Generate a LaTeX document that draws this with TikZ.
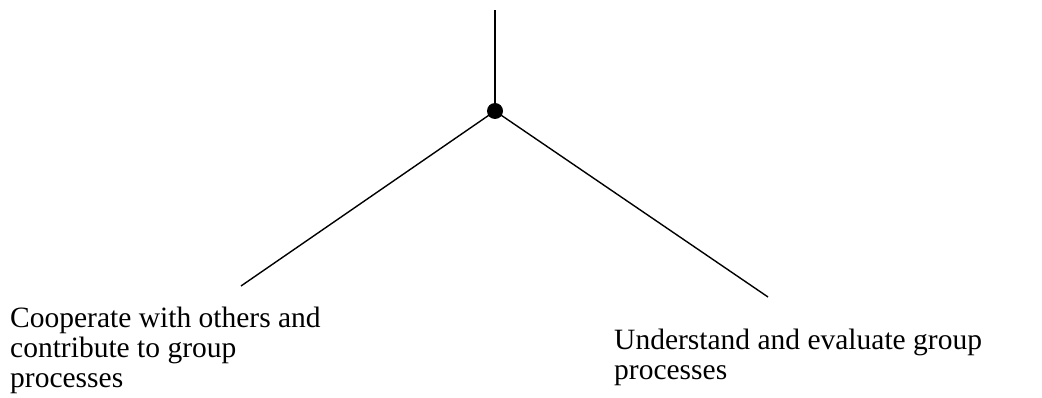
\documentclass[tikz,border=0pt]{standalone}
\usepackage{fontspec}
\setmainfont{Liberation Serif}
\begin{document}
\begin{tikzpicture}[x=1pt,y=-1pt,
  branch/.style={line width=1.4pt,black},
  label/.style={inner sep=0pt,align=left,font=\fontsize{29.5}{30}\selectfont}]
\useasboundingbox (0,0) rectangle (1042,398);
\coordinate (top) at (495,10);
\node[circle,fill=black,inner sep=0pt,minimum size=16pt] (hub) at (495,111) {};
\coordinate (lend) at (241,286);
\coordinate (rend) at (768,297);
\draw[branch] (top) -- (hub.center);
\draw[branch] (hub.center) -- (lend);
\draw[branch] (hub.center) -- (rend);
\node[label,anchor=north west] (ltext) at (10,307) {Cooperate with others and\\contribute to group\\processes};
\node[label,anchor=north west] (rtext) at (614,329) {Understand and evaluate group\\processes};
\end{tikzpicture}
\end{document}
